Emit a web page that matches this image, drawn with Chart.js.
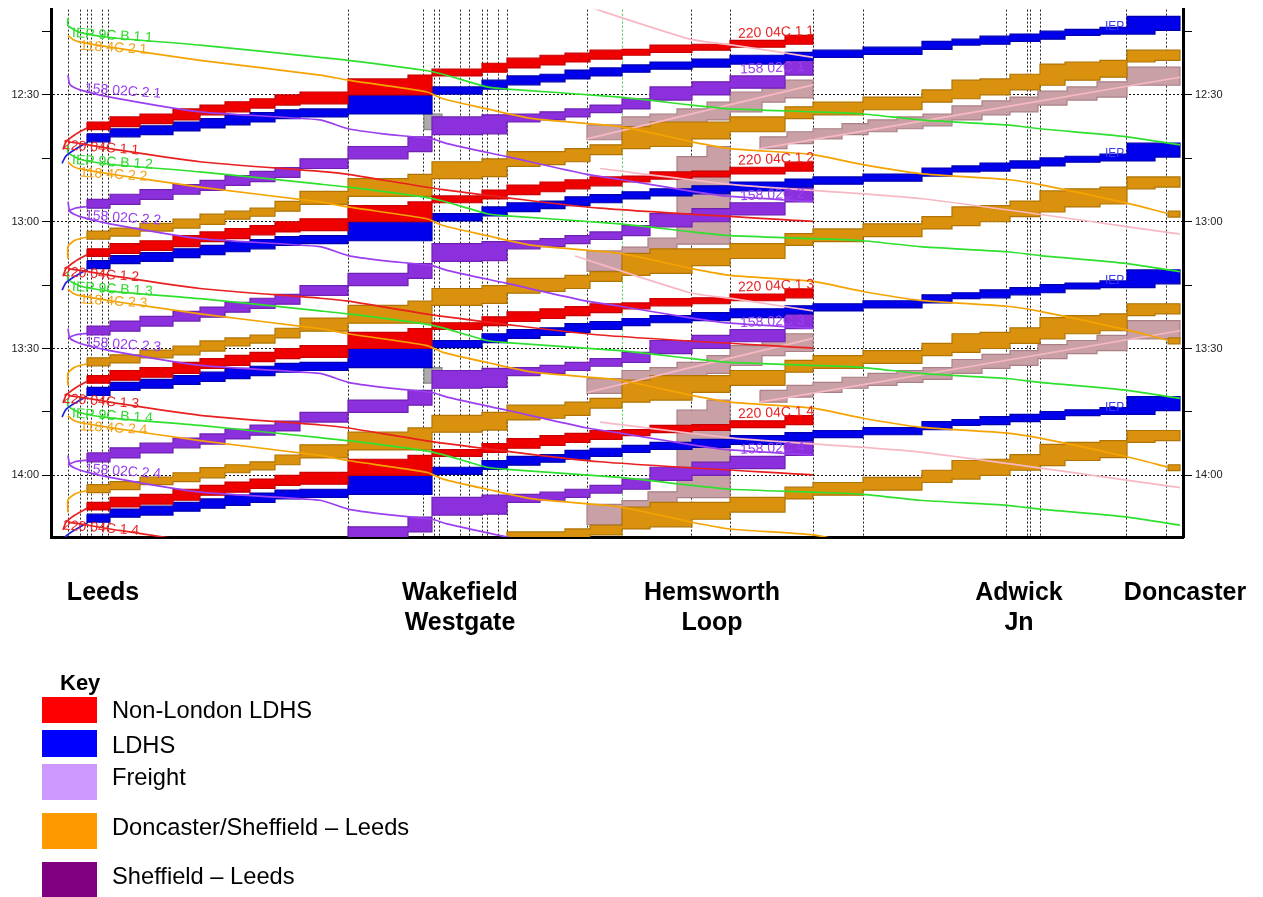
<!DOCTYPE html>
<html>
<head>
<meta charset="utf-8">
<script src="https://cdn.jsdelivr.net/npm/chart.js@4.4.1/dist/chart.umd.min.js"></script>
<style>
  body { margin: 0; background: #fff; font-family: Arial, "Liberation Sans", sans-serif; }
  #wrap { position: relative; width: 1263px; height: 897px; overflow: hidden; }
  #graph { position: absolute; left: 0; top: 0; }
  .keyTitle { position: absolute; left: 60px; top: 670px; font-weight: bold; font-size: 22px; }
  .swatch { position: absolute; left: 42px; width: 55px; }
  .keyText { position: absolute; left: 112px; font-size: 23.7px; line-height: 26px; color: #000; }
</style>
</head>
<body>
<div id="wrap">
  <canvas id="graph" width="1263" height="897"></canvas>
</div>
<script>
// distance units along the route (Leeds on the left, Doncaster on the right), time in minutes after 12:00
const timingPoints = [1.7, 2.9, 3.6, 4.0, 5.1, 5.7, 29.7, 37.3, 38.4, 38.8, 41.0, 41.9, 43.1, 43.6, 44.7, 45.6,
  53.6, 57.1, 64.1, 67.9, 76.2, 81.2, 95.5, 97.6, 97.9, 98.9, 107.6, 111.5];
const stations = ['Leeds', 'Wakefield\nWestgate', 'Hemsworth\nLoop', 'Adwick\nJn', 'Doncaster'];
const stationAt = [5.2, 40.9, 66.1, 96.8, 113.4];
const yTicks = [15, 30, 45, 60, 75, 90, 105, 120];

// each train pattern repeats every half hour
const trainCycles = [0, 30, 60, 90];
const freightCycles = [0, 60];

// signal section boundaries used by the blocking-time bands
const blockEdges = [3.6, 5.9, 8.9, 12.2, 14.9, 17.4, 19.9, 22.4, 24.9, 29.7, 35.7, 38.1, 43.1, 45.6, 48.9, 51.4,
  53.9, 57.1, 59.9, 64.1, 67.9, 73.4, 76.2, 81.2, 87.1, 90.1, 92.9, 95.9, 98.9, 101.4, 104.9, 107.6, 110.4, 112.9];

const redTop = [36.4, 35.2, 34.5, 33.3, 32.4, 31.6, 30.9, 30.0, 29.3, 26.2, 25.3, 23.9, 22.5, 21.3, 20.6, 20.1, 19.4, 19.2, 18.2, 18.0, 17.1, 15.9];
const redBottom = [38.2, 37.5, 36.8, 35.9, 34.7, 34.0, 33.1, 32.4, 32.1, 30.0, 30.0, 25.5, 24.6, 23.6, 22.9, 22.2, 21.5, 20.6, 19.9, 19.4, 18.7, 18.0];

const blueTop = [39.2, 38.0, 37.3, 36.4, 35.6, 34.7, 34.2, 33.5, 33.3, 30.0, 30.0, 28.1, 26.5, 25.5, 25.1, 24.1, 23.6, 22.9, 22.2, 21.5, 20.6,
  19.9, 19.4, 18.7, 17.3, 16.8, 16.1, 15.6, 14.9, 14.5, 14.0, 11.4, 11.4];
const blueBottom = [41.1, 39.9, 39.4, 38.5, 37.8, 37.1, 36.4, 35.6, 35.2, 34.5, 34.5, 29.8, 28.6, 27.6, 26.9, 26.2, 25.5, 24.6, 23.9, 23.4, 22.7,
  21.8, 21.1, 20.4, 19.2, 18.2, 18.0, 17.3, 16.8, 15.9, 15.6, 15.6, 14.7];

const purpleTop = [54.7, 53.5, 52.4, 51.2, 50.2, 49.1, 48.1, 47.2, 45.1, 42.2, 39.9, 35.2, 34.7, 34.5, 34.0, 33.3, 32.4, 30.9, 28.1, 26.9, 25.5, 21.3];
const purpleBottom = [56.8, 55.9, 54.7, 53.5, 52.6, 51.4, 50.5, 49.5, 47.4, 45.1, 43.4, 39.4, 39.2, 36.4, 35.9, 35.2, 34.2, 33.3, 31.2, 30.0, 28.4, 25.3];

const orangeTop = [62.2, 61.5, 60.4, 59.4, 58.2, 57.5, 56.8, 55.2, 52.8, 49.8, 48.8, 45.8, 45.1, 43.4, 43.4, 42.7, 41.8, 37.5, 36.4, 36.4, 35.2,
  32.8, 31.7, 30.5, 28.8, 26.5, 26.2, 25.1, 22.7, 22.2, 21.8, 19.4, 19.4];
const orangeBottom = [64.1, 63.4, 62.2, 61.5, 60.6, 59.4, 58.7, 57.5, 55.9, 54.0, 54.0, 49.8, 49.3, 46.9, 46.5, 45.8, 44.1, 42.7, 42.2, 40.4, 38.7,
  35.6, 34.7, 33.5, 31.7, 30.9, 30.0, 28.8, 27.7, 26.5, 25.8, 22.2, 21.8];
const orangeStubEdges = [111.7, 112.9];
const orangeStubTop = [57.5];
const orangeStubBottom = [58.9];

// freight (hourly)
const freightAEdges = [53.6, 57.1, 59.9, 62.6, 65.6, 67.9, 71.1, 73.4, 76.2];
const freightATop = [37.1, 35.2, 34.5, 33.3, 31.7, 29.3, 27.7, 26.5];
const freightABottom = [40.6, 39.2, 38.7, 37.5, 35.9, 34.0, 31.7, 30.7];
const freightBEdges = [70.9, 73.6, 76.2, 79.1, 81.7, 84.6, 87.2, 90.1, 93.1, 95.9, 98.7, 101.6, 104.6, 107.6, 112.9];
const freightBTop = [39.9, 38.7, 38.0, 36.8, 35.9, 35.2, 34.5, 32.6, 31.4, 30.5, 29.1, 28.1, 26.9, 23.4];
const freightBBottom = [42.7, 41.5, 40.4, 39.4, 38.7, 38.0, 37.3, 35.9, 34.7, 34.0, 32.4, 31.2, 30.5, 27.7];
const loopEdges = [53.6, 57.1, 59.7, 62.6, 65.6, 67.9];
const loopTop = [66.9, 66.0, 63.9, 44.6, 42.2];
const loopBottom = [71.7, 69.8, 68.1, 65.3, 65.3];
const greyEdges = [37.3, 39.1];
const greyTop = [34.5];
const greyBottom = [38.2];

// thin train paths [distance, minutes]
const greenPath = [[1.7, 11.8], [1.7, 13.6], [2.9, 15.2], [5.9, 16.4], [14.9, 18.2], [26.9, 21.1], [29.7, 21.8], [37.2, 24.1], [39.2, 25.1],
  [43.6, 28.1], [45.6, 28.6], [56.9, 30.5], [64.1, 32.4], [67.9, 33.3], [76.2, 34.0], [81.2, 34.5], [86.9, 35.9], [95.6, 37.1],
  [98.9, 38.0], [107.6, 39.9], [112.9, 41.8]];
const orangePath = [[1.7, 15.9], [2.2, 16.9], [2.9, 17.5], [5.9, 18.7], [14.9, 21.8], [26.9, 25.3], [29.7, 26.5], [37.6, 29.3], [39.2, 30.9],
  [43.6, 33.3], [48.2, 35.6], [56.9, 37.5], [64.1, 41.1], [67.9, 42.7], [76.2, 44.1], [81.2, 46.5], [86.9, 48.6], [95.6, 50.0],
  [98.9, 51.2], [107.6, 55.6], [111.6, 58.0]];
const purplePath = [[1.7, 25.3], [1.9, 27.6], [2.9, 28.8], [5.9, 30.5], [14.9, 34.0], [26.9, 35.9], [29.7, 38.0], [33.2, 39.2], [38.1, 40.4],
  [39.6, 41.5], [45.6, 44.6], [53.6, 48.8], [56.9, 50.0], [64.1, 52.8], [67.9, 54.0], [76.2, 55.2]];
const redPath = [[1.7, 41.1], [2.9, 41.5], [5.9, 42.7], [14.9, 45.8], [26.9, 48.1], [29.7, 48.8], [39.2, 52.4], [54.9, 56.8], [76.2, 59.9]];
const redTail = [[3.6, 37.8], [2.4, 39.4], [1.5, 41.1], [1.2, 42.9]];
const blueTail = [[3.6, 41.3], [2.4, 42.9], [1.5, 44.4], [1.1, 46.2]];
const purpleTail = [[3.6, 56.4], [2.4, 56.8], [1.7, 57.5]];
const orangeTail = [[3.6, 63.6], [2.4, 64.4], [1.7, 65.8], [1.7, 68.8]];
const pinkA = [[53.6, 40.4], [76.2, 27.6]];
const pinkB = [[70.9, 42.7], [112.9, 25.8]];
const pinkTop = [[52.4, 8.1], [63.9, 16.8], [68.2, 18.2], [76.2, 21.1]];
const pinkDesc = [[54.9, 47.4], [68.2, 51.2], [86.9, 54.5], [112.9, 62.9]];

// train headcode texts
const lineLabels = [
  { text: 'IEP 9C B 1', numbered: true, colour: '#2fd92f', d: 2.1, t: 15.4, angle: 0.06 },
  { text: '118 4C 2', numbered: true, colour: '#f2a51a', d: 2.9, t: 18.4, angle: 0.06 },
  { text: '158 02C 2', numbered: true, colour: '#9b3ff0', d: 3.4, t: 28.5, angle: 0.07 },
  { text: '220 04C 1', numbered: true, colour: '#e82424', d: 1.2, t: 41.9, angle: 0.07 },
  { text: '220 04C 1', numbered: true, colour: '#e82424', d: 68.7, t: 15.6, angle: -0.04 },
  { text: '158 02C', numbered: true, colour: '#9b3ff0', d: 68.9, t: 24.0, angle: -0.04 },
  { text: 'IEP', numbered: false, colour: '#3a3af0', d: 105.4, t: 13.9, angle: 0 }
];

const keyLabels = ['Non-London LDHS', 'LDHS', 'Freight', 'Doncaster/Sheffield \u2013 Leeds', 'Sheffield \u2013 Leeds'];
const keyColours = ['#ff0000', '#0000ff', '#cc99ff', '#ff9900', '#800080'];

function toTime(v) {
  const h = 12 + Math.floor(v / 60);
  const m = Math.round(v % 60);
  return h + ':' + String(m).padStart(2, '0');
}

function bandOutline(edges, first, top, bottom, offset) {
  const pts = [];
  for (let i = 0; i < top.length; i++) {
    pts.push({ x: edges[first + i], y: top[i] + offset });
    pts.push({ x: edges[first + i + 1], y: top[i] + offset });
  }
  for (let i = bottom.length - 1; i >= 0; i--) {
    pts.push({ x: edges[first + i + 1], y: bottom[i] + offset });
    pts.push({ x: edges[first + i], y: bottom[i] + offset });
  }
  pts.push(pts[0]);
  return pts;
}

const datasets = [];
function addPath(points, colour, offset, order) {
  datasets.push({
    data: points.map(p => ({ x: p[0], y: p[1] + offset })),
    borderColor: colour, borderWidth: 1.7, pointRadius: 0, tension: 0.2, fill: false, order: order
  });
}
function addBand(edges, first, top, bottom, colour, edge, offset, order) {
  datasets.push({
    data: bandOutline(edges, first, top, bottom, offset),
    backgroundColor: colour, borderColor: edge, borderWidth: 1.2, pointRadius: 0, tension: 0,
    fill: 'shape', order: order
  });
}

trainCycles.forEach(o => {
  addPath(greenPath, '#2fe02f', o, 0);
  addPath(orangePath, '#f5a300', o, 0);
  addPath(purplePath, '#9b3ff0', o, 0);
  addPath(redPath, '#e82020', o, 0);
  addPath(redTail, '#e82020', o, 0);
  addPath(blueTail, '#2020e0', o, 0);
  addPath(purpleTail, '#9b3ff0', o, 0);
  addPath(orangeTail, '#f5a300', o, 0);
  addBand(blockEdges, 0, redTop, redBottom, '#ee0000', '#c80000', o, 2);
  addBand(blockEdges, 0, blueTop, blueBottom, '#0000ea', '#0000b0', o, 2);
  addBand(blockEdges, 0, purpleTop, purpleBottom, '#8c2fdc', '#6f22b0', o, 3);
  addBand(blockEdges, 0, orangeTop, orangeBottom, '#da920e', '#b07406', o, 3);
  addBand(orangeStubEdges, 0, orangeStubTop, orangeStubBottom, '#da920e', '#b07406', o, 3);
});
freightCycles.forEach(o => {
  addPath(pinkA, '#f7b8c4', o, 1);
  addPath(pinkB, '#f7b8c4', o, 1);
  addPath(pinkTop, '#f7b8c4', o, 1);
  addPath(pinkDesc, '#f7b8c4', o, 1);
  addBand(freightAEdges, 0, freightATop, freightABottom, '#c9a0a5', '#a98086', o, 4);
  addBand(freightBEdges, 0, freightBTop, freightBBottom, '#c9a0a5', '#a98086', o, 4);
  addBand(loopEdges, 0, loopTop, loopBottom, '#c9a0a5', '#a98086', o, 4);
  addBand(greyEdges, 0, greyTop, greyBottom, '#ababab', '#888888', o, 4);
});

const textPlugin = {
  id: 'trainText',
  afterDatasetsDraw(chart) {
    const { ctx, chartArea: a, scales: { x, y } } = chart;
    ctx.save();
    ctx.beginPath();
    ctx.rect(a.left, a.top, a.right - a.left, a.bottom - a.top);
    ctx.clip();
    ctx.textBaseline = 'middle';
    ctx.textAlign = 'left';
    trainCycles.forEach((offset, k) => {
      lineLabels.forEach(l => {
        ctx.save();
        ctx.translate(x.getPixelForValue(l.d), y.getPixelForValue(l.t + offset));
        ctx.rotate(l.angle);
        ctx.fillStyle = l.colour;
        ctx.font = (l.numbered ? 14 : 12) + 'px Arial, "Liberation Sans", sans-serif';
        ctx.fillText(l.numbered ? l.text + ' ' + (k + 1) : l.text, 0, 0);
        ctx.restore();
      });
    });
    ctx.restore();
  },
  afterDraw(chart) {
    const { ctx, scales: { x } } = chart;
    ctx.save();
    ctx.fillStyle = '#000';
    ctx.font = 'bold 25px Arial, "Liberation Sans", sans-serif';
    ctx.textAlign = 'center';
    ctx.textBaseline = 'middle';
    stations.forEach((s, i) => {
      s.split('\n').forEach((line, j) => {
        ctx.fillText(line, x.getPixelForValue(stationAt[i]), 593 + j * 30);
      });
    });
    ctx.restore();
  }
};

const timeAxis = (position, width) => ({
  type: 'linear', position: position, reverse: true, min: 9.8, max: 134.6,
  afterBuildTicks: s => { s.ticks = yTicks.map(v => ({ value: v })); },
  afterFit: s => { s.width = width; },
  ticks: {
    callback: v => (v % 30 === 0 ? toTime(v) : ''),
    font: { size: 11, family: 'Arial, "Liberation Sans", sans-serif' },
    color: '#222', padding: 3
  },
  grid: {
    drawOnChartArea: position === 'left',
    color: c => (c.tick && c.tick.value % 30 === 0 ? '#111' : 'rgba(0,0,0,0)'),
    tickColor: '#000', tickLength: 9, lineWidth: 1
  },
  border: { color: '#000', width: 3, dash: [2, 2] }
});

new Chart(document.getElementById('graph'), {
  type: 'line',
  data: { datasets: datasets },
  options: {
    responsive: false,
    animation: false,
    layout: { padding: { top: 7, left: 0, right: 0, bottom: 0 } },
    plugins: { legend: { display: false }, tooltip: { enabled: false } },
    scales: {
      x: {
        type: 'linear', position: 'bottom', min: 0, max: 113.2,
        afterBuildTicks: s => { s.ticks = timingPoints.map(v => ({ value: v })); },
        afterFit: s => { s.height = 360; },
        ticks: { display: false },
        grid: {
          drawTicks: false, lineWidth: 1,
          color: c => (c.tick && c.tick.value === 57.1 ? '#44cc44' : '#222')
        },
        border: { color: '#000', width: 3, dash: [2, 2] }
      },
      y: timeAxis('left', 51),
      y2: timeAxis('right', 80)
    }
  },
  plugins: [textPlugin]
});

// key below the graph
const wrap = document.getElementById('wrap');
const keyTops = [697, 730, 764, 813, 862];
const keyHeights = [26, 27, 36, 36, 35];
const keyTextTops = [697, 732, 764, 814, 863];
const title = document.createElement('div');
title.className = 'keyTitle';
title.textContent = 'Key';
wrap.appendChild(title);
keyLabels.forEach((label, i) => {
  const sw = document.createElement('div');
  sw.className = 'swatch';
  sw.style.top = keyTops[i] + 'px';
  sw.style.height = keyHeights[i] + 'px';
  sw.style.background = keyColours[i];
  wrap.appendChild(sw);
  const tx = document.createElement('div');
  tx.className = 'keyText';
  tx.style.top = keyTextTops[i] + 'px';
  tx.textContent = label;
  wrap.appendChild(tx);
});
</script>
</body>
</html>
